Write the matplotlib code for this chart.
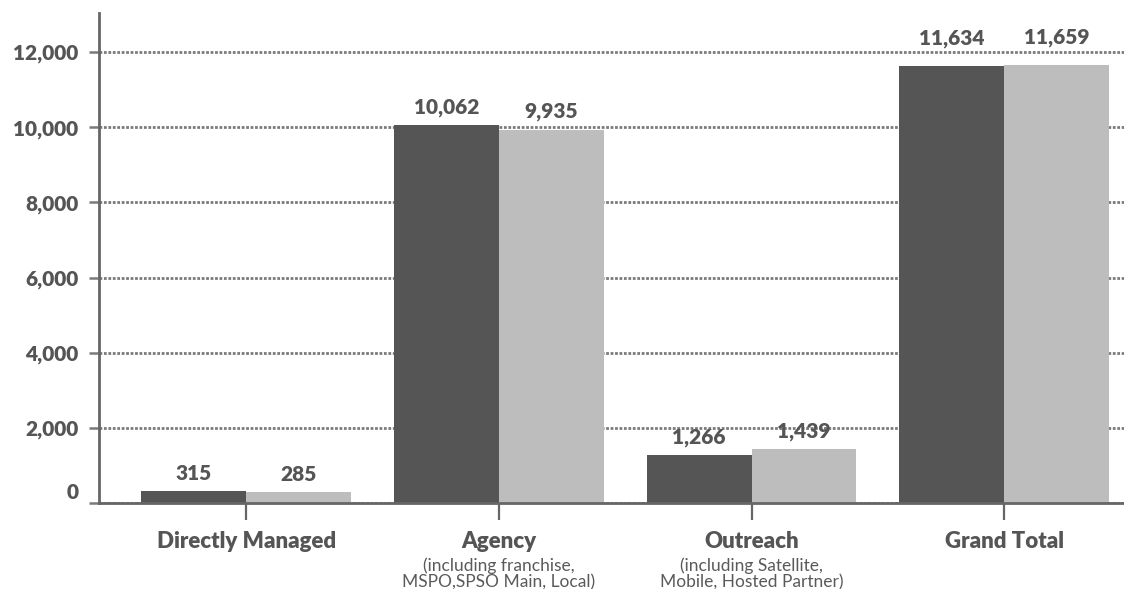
import matplotlib
matplotlib.use('Agg')
import matplotlib.pyplot as plt
import matplotlib.transforms as mtransforms
import numpy as np

plt.rcParams['font.family'] = ['Lato', 'DejaVu Sans']

# data
categories = ['Directly Managed', 'Agency', 'Outreach', 'Grand Total']
sub_labels = ['', '(including franchise,\nMSPO,SPSO Main, Local)',
              '(including Satellite,\nMobile, Hosted Partner)', '']
series_a = [315, 10062, 1266, 11634]
series_b = [285, 9935, 1439, 11659]
y_ticks = [0, 2000, 4000, 6000, 8000, 10000, 12000]

text_col = '#555555'
dark = '#555555'
light = '#bdbdbd'
axis_col = '#666666'
heavy = 'heavy'

fig = plt.figure(figsize=(11.24, 5.89), dpi=100)
ax = fig.add_axes([99 / 1124, 86 / 589, 1 - 99 / 1124, 490.3 / 589])

x = np.arange(len(categories))
w = 0.415
bars_a = ax.bar(x - w / 2, series_a, w, color=dark, zorder=3)
bars_b = ax.bar(x + w / 2, series_b, w, color=light, zorder=3)

# value labels; the grand total pair sits a little higher in the original
for bars in (bars_a, bars_b):
    for i, (rect, v) in enumerate(zip(bars, bars.datavalues)):
        pad = 13 if i == len(categories) - 1 else 6
        ax.annotate(f'{v:,.0f}', xy=(rect.get_x() + rect.get_width() / 2, v),
                    xytext=(0, pad), textcoords='offset points',
                    ha='center', va='bottom', fontsize=15, fontweight=heavy,
                    color=text_col, zorder=5)

ax.set_xlim(-0.582, 3.474)
ax.set_ylim(0, 13050)

ax.set_yticks(y_ticks)
ax.set_yticklabels([f'{v:,}' for v in y_ticks])
ax.yaxis.grid(True, linestyle=(0, (1, 0.6)), linewidth=2, color='#7a7a7a', zorder=0)
ax.set_axisbelow(True)

ax.tick_params(axis='y', length=7.2, width=1.8, color='#7a7a7a', pad=7.5,
               labelsize=15, labelcolor=text_col)
for lab in ax.get_yticklabels():
    lab.set_fontweight(heavy)
# zero label sits a bit higher than the axis line
zero_lab = ax.get_yticklabels()[0]
zero_lab.set_transform(zero_lab.get_transform() +
                       mtransforms.ScaledTranslation(0, 12 / 100, fig.dpi_scale_trans))

ax.set_xticks(x)
ax.set_xticklabels(categories)
ax.tick_params(axis='x', length=12.2, width=1.6, color=axis_col, pad=8,
               labelsize=16, labelcolor=text_col)
for lab in ax.get_xticklabels():
    lab.set_fontweight(heavy)

for i, s in enumerate(sub_labels):
    if s:
        ax.annotate(s, xy=(i, 0), xycoords=('data', 'axes fraction'),
                    xytext=(0, -39), textcoords='offset points',
                    ha='center', va='top', fontsize=12.5, color='#5a5a5a',
                    linespacing=1.08)

for side in ('top', 'right'):
    ax.spines[side].set_visible(False)
for side in ('left', 'bottom'):
    ax.spines[side].set_color(axis_col)
    ax.spines[side].set_linewidth(2)
    ax.spines[side].set_zorder(4)

fig.savefig('out.png', dpi=100)
